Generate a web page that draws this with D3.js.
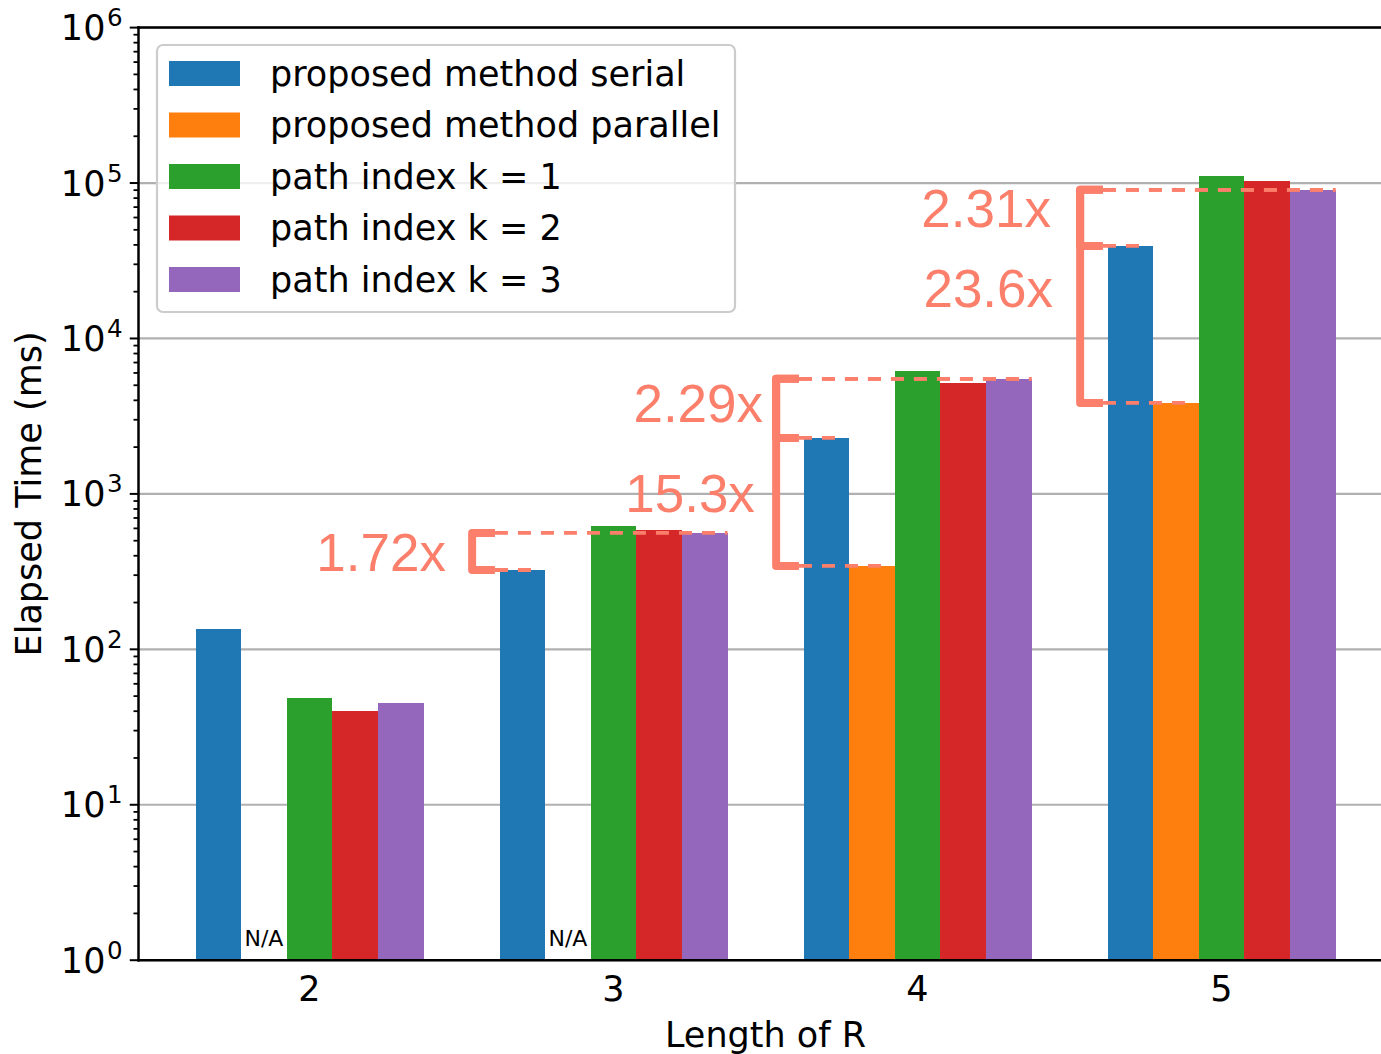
<!DOCTYPE html>
<html>
<head>
<meta charset="utf-8">
<script src="https://cdn.jsdelivr.net/npm/d3@7"></script>
<style>
  html, body { margin: 0; padding: 0; background: #fff; }
  svg { display: block; }
</style>
</head>
<body>
<svg id="chart" width="1381" height="1054"></svg>
<script>
// ---------------- data ----------------
const categories = ["2", "3", "4", "5"];
const seriesNames = ["proposed method serial", "proposed method parallel", "path index k = 1", "path index k = 2", "path index k = 3"];
const serialMs   = [135, 324, 2290, 39400];
const parallelMs = [null, null, 344, 3850];
const pathK1Ms   = [48.7, 622, 6190, 111000];
const pathK2Ms   = [40.2, 587, 5180, 103000];
const pathK3Ms   = [45.2, 561, 5500, 90400];
const seriesColors = ["#1f77b4", "#ff7f0e", "#2ca02c", "#d62728", "#9467bd"];
const yTickExponents = [0, 1, 2, 3, 4, 5, 6];
const naLabel = "N/A";

// speed-up annotations (group index, reference series, compared series, label, label anchor in data coords)
const speedupGroup  = [1, 2, 2, 3, 3];
const speedupTop    = [4, 4, 4, 4, 4];
const speedupBottom = [0, 0, 1, 0, 1];
const speedupLabels = ["1.72x", "2.29x", "15.3x", "2.31x", "23.6x"];
const speedupLabelX = [0.449, 1.492, 1.465, 2.439, 2.446];
const speedupLabelY = [320, 2900, 766, 52300, 15960];

const seriesValues = [serialMs, parallelMs, pathK1Ms, pathK2Ms, pathK3Ms];

// ---------------- layout ----------------
const svg = d3.select("#chart");
const pL = 138.5, pR = 1392.5, pT = 27.6, pB = 960.2;
const x = d3.scaleLinear().domain([-0.5625, 3.5625]).range([pL, pR]);
const y = d3.scaleLog().domain([1, 1e6]).range([pB, pT]);
const barW = 0.15;
const annoColor = "#fb7f6b";
const tickFont = "'DejaVu Sans', sans-serif";

// gridlines
svg.append("g").selectAll("line").data(yTickExponents).join("line")
  .attr("x1", pL).attr("x2", pR)
  .attr("y1", d => y(Math.pow(10, d))).attr("y2", d => y(Math.pow(10, d)))
  .attr("stroke", "#b0b0b0").attr("stroke-width", 2.2);

// bars
const barData = [];
seriesValues.forEach((vals, si) => {
  vals.forEach((v, gi) => {
    barData.push({ si, gi, v });
  });
});
const barCenter = (gi, si) => gi + (si - 2) * barW;
svg.append("g").selectAll("rect").data(barData.filter(d => d.v != null)).join("rect")
  .attr("x", d => x(barCenter(d.gi, d.si) - barW / 2))
  .attr("width", d => x(barW) - x(0))
  .attr("y", d => y(d.v))
  .attr("height", d => y(1) - y(d.v))
  .attr("fill", d => seriesColors[d.si])
  .attr("shape-rendering", "crispEdges");

// N/A labels
svg.append("g").selectAll("text").data(barData.filter(d => d.v == null)).join("text")
  .attr("x", d => x(barCenter(d.gi, d.si)))
  .attr("y", y(1) - 14)
  .attr("text-anchor", "middle")
  .attr("font-family", tickFont).attr("font-size", 22)
  .text(naLabel);

// axes: y ticks
const yAxisG = svg.append("g");
const minorVals = [];
for (let e = 0; e < 6; e++) for (let m = 2; m <= 9; m++) minorVals.push(m * Math.pow(10, e));
yAxisG.selectAll("line.minor").data(minorVals).join("line")
  .attr("class", "minor")
  .attr("x1", pL - 5).attr("x2", pL)
  .attr("y1", d => y(d)).attr("y2", d => y(d))
  .attr("stroke", "#000").attr("stroke-width", 1.8);
yAxisG.selectAll("line.major").data(yTickExponents).join("line")
  .attr("class", "major")
  .attr("x1", pL - 8.75).attr("x2", pL)
  .attr("y1", d => y(Math.pow(10, d))).attr("y2", d => y(Math.pow(10, d)))
  .attr("stroke", "#000").attr("stroke-width", 2);
const yl = yAxisG.selectAll("text").data(yTickExponents).join("text")
  .attr("x", pL - 16)
  .attr("y", d => y(Math.pow(10, d)) + 12.5)
  .attr("text-anchor", "end")
  .attr("font-family", tickFont).attr("font-size", 35);
yl.append("tspan").text("10");
yl.append("tspan").attr("dx", 1.5).attr("dy", -14).attr("font-size", 24.5).text(d => d);

// x tick labels
svg.append("g").selectAll("text").data(categories).join("text")
  .attr("x", (d, i) => x(i))
  .attr("y", pB + 41)
  .attr("text-anchor", "middle")
  .attr("font-family", tickFont).attr("font-size", 35)
  .text(d => d);

// spines
svg.append("line").attr("x1", pL).attr("x2", pL).attr("y1", pT).attr("y2", pB)
  .attr("stroke", "#000").attr("stroke-width", 2.5).attr("stroke-linecap", "square");
svg.append("line").attr("x1", pL).attr("x2", pR).attr("y1", pB).attr("y2", pB)
  .attr("stroke", "#000").attr("stroke-width", 2.5).attr("stroke-linecap", "square");
svg.append("line").attr("x1", pL).attr("x2", pR).attr("y1", pT).attr("y2", pT)
  .attr("stroke", "#000").attr("stroke-width", 2.5).attr("stroke-linecap", "square");
svg.append("line").attr("x1", pR).attr("x2", pR).attr("y1", pT).attr("y2", pB)
  .attr("stroke", "#000").attr("stroke-width", 2.5);

// axis titles
svg.append("text")
  .attr("x", (pL + pR) / 2).attr("y", 1047)
  .attr("text-anchor", "middle")
  .attr("font-family", tickFont).attr("font-size", 35)
  .text("Length of R");
svg.append("text")
  .attr("transform", `translate(41,${(pT + pB) / 2}) rotate(-90)`)
  .attr("text-anchor", "middle")
  .attr("font-family", tickFont).attr("font-size", 35)
  .text("Elapsed Time (ms)");

// speed-up annotations
const annoG = svg.append("g");
speedupLabels.forEach((lab, k) => {
  const g = speedupGroup[k];
  const vTop = seriesValues[speedupTop[k]][g];
  const vBot = seriesValues[speedupBottom[k]][g];
  const xV = x(g - 0.465), xArm = x(g - 0.39);
  const yT = y(vTop), yB = y(vBot);
  annoG.append("line")
    .attr("x1", xArm).attr("x2", x(barCenter(g, speedupTop[k]) + barW / 2))
    .attr("y1", yT).attr("y2", yT)
    .attr("stroke", annoColor).attr("stroke-width", 3.8).attr("stroke-dasharray", "13,10");
  annoG.append("line")
    .attr("x1", xArm).attr("x2", x(barCenter(g, speedupBottom[k]) + 0.036))
    .attr("y1", yB).attr("y2", yB)
    .attr("stroke", annoColor).attr("stroke-width", 3.8).attr("stroke-dasharray", "13,10");
  annoG.append("path")
    .attr("d", `M${xArm},${yT} L${xV},${yT} L${xV},${yB} L${xArm},${yB}`)
    .attr("fill", "none").attr("stroke", annoColor).attr("stroke-width", 8)
    .attr("stroke-linejoin", "round");
  annoG.append("text")
    .attr("x", x(speedupLabelX[k])).attr("y", y(speedupLabelY[k]))
    .attr("text-anchor", "end")
    .attr("font-family", "'Liberation Sans', Arial, sans-serif").attr("font-size", 53)
    .attr("fill", annoColor)
    .text(lab);
});

// legend
const lg = svg.append("g");
lg.append("rect")
  .attr("x", 157).attr("y", 45).attr("width", 578).attr("height", 267)
  .attr("rx", 6).attr("ry", 6)
  .attr("fill", "#fff").attr("fill-opacity", 0.8)
  .attr("stroke", "#cccccc").attr("stroke-width", 2.2);
const rows = lg.selectAll("g.row").data(seriesNames).join("g")
  .attr("class", "row")
  .attr("transform", (d, i) => `translate(0,${73.5 + i * 51.5})`);
rows.append("rect")
  .attr("x", 169).attr("y", -12.5).attr("width", 71).attr("height", 25)
  .attr("fill", (d, i) => seriesColors[i]);
rows.append("text")
  .attr("x", 270).attr("y", 12)
  .attr("font-family", tickFont).attr("font-size", 35)
  .text(d => d);
</script>
</body>
</html>
